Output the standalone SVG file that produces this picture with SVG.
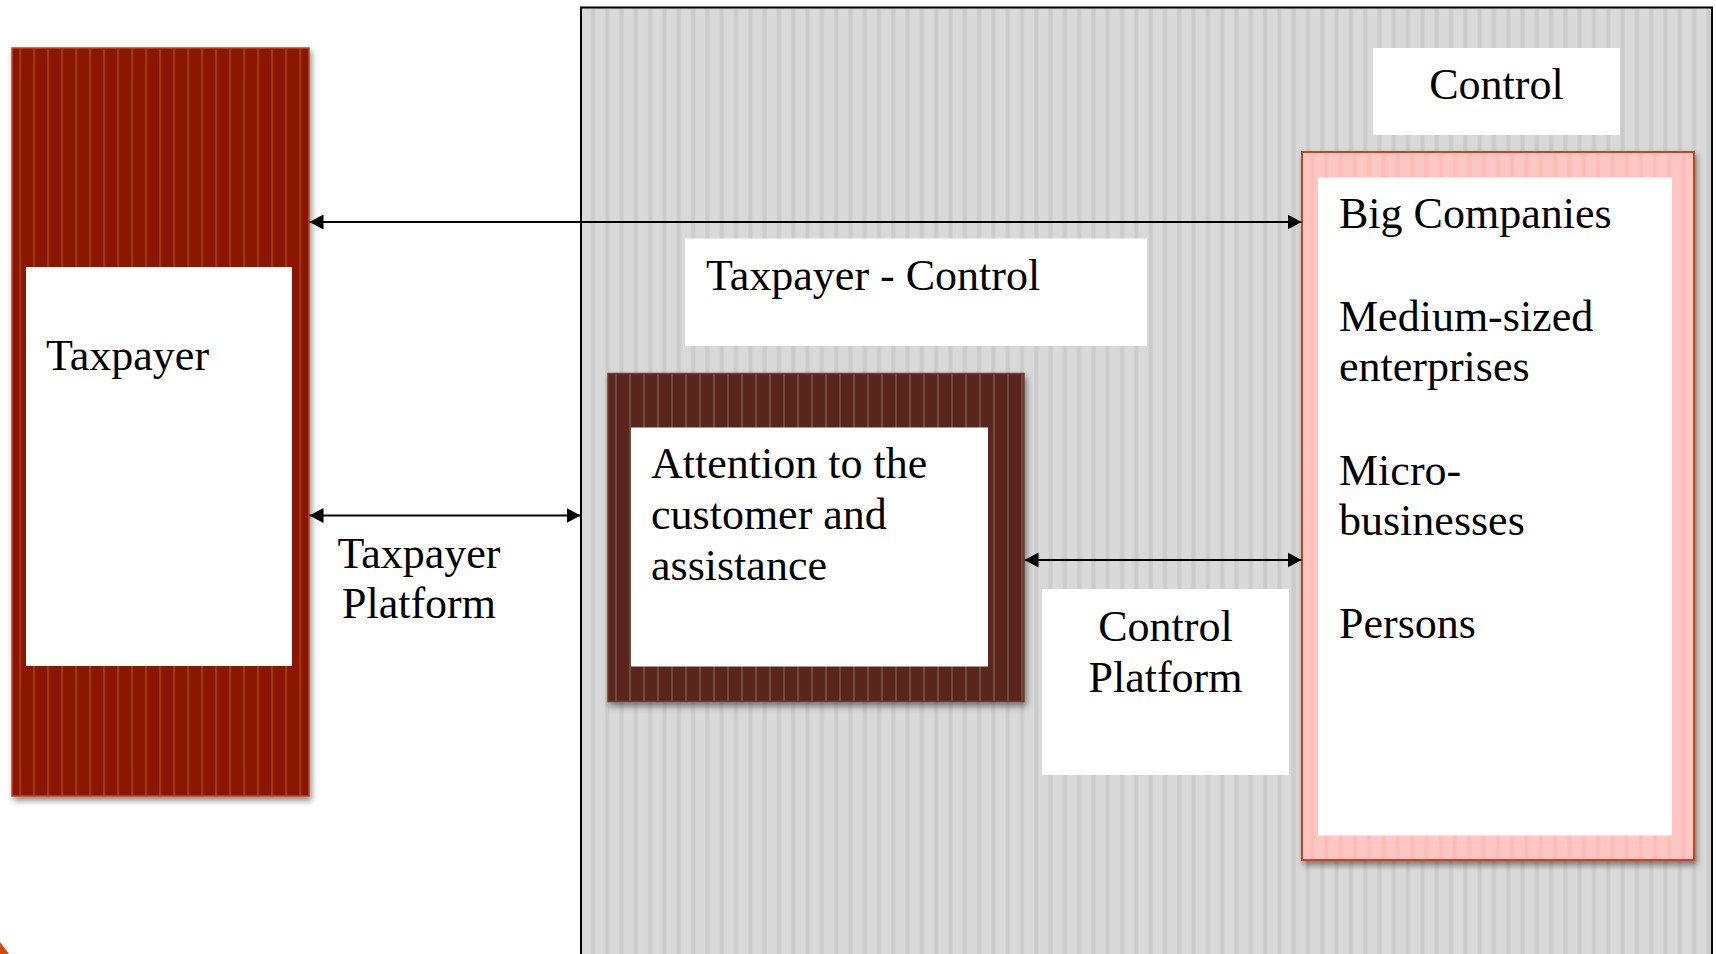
<svg xmlns="http://www.w3.org/2000/svg" width="1716" height="954" viewBox="0 0 1716 954">
<style>
.t{font-family:"Liberation Serif","Times New Roman",serif;font-size:44px;fill:#000}
.c{text-anchor:middle}
.wb{fill:#fff}
.conn{stroke:#000;stroke-width:2;fill:none;marker-start:url(#ah);marker-end:url(#ah)}
</style>
<defs>
<pattern id="pGray" patternUnits="userSpaceOnUse" width="14.3" height="20" x="583">
<rect width="14.3" height="20" fill="#d9d9d9"/>
<rect x="8" width="4" height="20" fill="#cbcbcb"/>
</pattern>
<pattern id="pRed" patternUnits="userSpaceOnUse" width="14" height="20" x="12">
<rect width="14" height="20" fill="#8b1400"/>
<rect x="7" width="2.2" height="20" fill="#a2380f"/>
</pattern>
<pattern id="pBrown" patternUnits="userSpaceOnUse" width="14" height="20" x="608">
<rect width="14" height="20" fill="#58281d"/>
<rect x="7" width="2" height="20" fill="#76483c"/>
</pattern>
<pattern id="pPink" patternUnits="userSpaceOnUse" width="14.3" height="20" x="1302">
<rect width="14.3" height="20" fill="#ffc7c3"/>
<rect x="8" width="4" height="20" fill="#ffbcb7"/>
</pattern>
<filter id="sh" x="-5%" y="-5%" width="115%" height="115%">
<feDropShadow dx="2" dy="4" stdDeviation="3" flood-color="#000" flood-opacity="0.45"/>
</filter>
<marker id="ah" markerUnits="userSpaceOnUse" markerWidth="16" markerHeight="16" refX="14" refY="8" orient="auto-start-reverse">
<path d="M0,0.5 L14,8 L0,15.5 Z" fill="#000"/>
</marker>
</defs>

<rect width="1716" height="954" fill="#fff"/>
<path d="M0,942 L9,954 L0,954 Z" fill="#cf4a15"/>

<g id="control-panel">
<rect x="581" y="7.5" width="1131" height="960" fill="url(#pGray)" stroke="#000" stroke-width="2"/>
</g>

<g id="taxpayer">
<rect x="12" y="48" width="297" height="748" fill="url(#pRed)" stroke="#c4461a" stroke-width="1.5" filter="url(#sh)"/>
<rect class="wb" x="26" y="267" width="266" height="399"/>
<text class="t" x="46" y="370">Taxpayer</text>
</g>

<g id="taxpayer-platform-label">
<text class="t c" x="419" y="568">Taxpayer</text>
<text class="t c" x="419" y="618">Platform</text>
</g>

<g id="taxpayer-control-label">
<rect class="wb" x="685" y="238.5" width="462" height="107.5"/>
<text class="t" x="706" y="290">Taxpayer - Control</text>
</g>

<g id="control-label">
<rect class="wb" x="1373" y="48" width="247" height="87"/>
<text class="t c" x="1496.5" y="99">Control</text>
</g>

<g id="attention">
<rect x="608" y="373.5" width="416" height="328" fill="url(#pBrown)" stroke="#6e3e32" stroke-width="1.5" filter="url(#sh)"/>
<rect class="wb" x="631" y="427.5" width="357" height="239"/>
<text class="t" x="651" y="478">Attention to the</text>
<text class="t" x="651" y="529">customer and</text>
<text class="t" x="651" y="580">assistance</text>
</g>

<g id="control-platform">
<rect class="wb" x="1042" y="589" width="247" height="186"/>
<text class="t c" x="1165.5" y="641">Control</text>
<text class="t c" x="1165.5" y="692">Platform</text>
</g>

<g id="segments">
<rect x="1302" y="152" width="392" height="708" fill="url(#pPink)" stroke="#c4461a" stroke-width="2" filter="url(#sh)"/>
<rect class="wb" x="1318" y="177.5" width="354" height="658"/>
<text class="t" x="1339" y="228">Big Companies</text>
<text class="t" x="1339" y="331">Medium-sized</text>
<text class="t" x="1339" y="381">enterprises</text>
<text class="t" x="1339" y="485">Micro-</text>
<text class="t" x="1339" y="535">businesses</text>
<text class="t" x="1339" y="638">Persons</text>
</g>

<g id="connectors">
<line class="conn" x1="309.5" y1="222" x2="1301.5" y2="222"/>
<line class="conn" x1="309.5" y1="515.5" x2="580.5" y2="515.5"/>
<line class="conn" x1="1024.5" y1="560" x2="1301.5" y2="560"/>
</g>
</svg>
